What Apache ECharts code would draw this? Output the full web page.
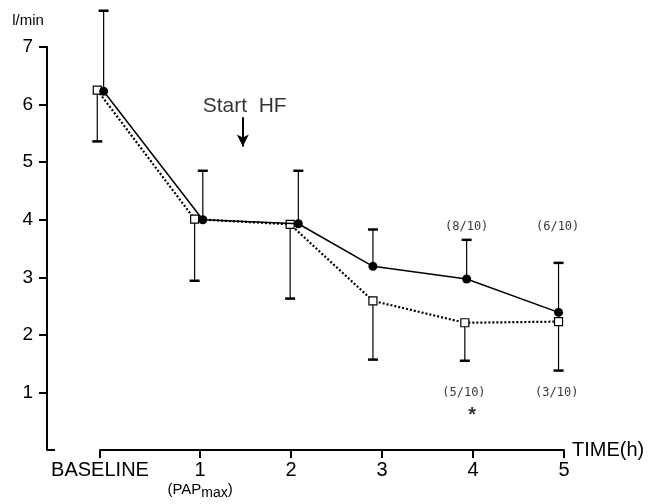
<!DOCTYPE html>
<html>
<head>
<meta charset="utf-8">
<script src="https://cdn.jsdelivr.net/npm/echarts@6/dist/echarts.min.js"></script>
<style>
  html, body { margin: 0; padding: 0; background: #fff; }
  #chart { width: 653px; height: 504px; }
</style>
</head>
<body>
<div id="chart"></div>
<script>
// x ticks (hours), baseline sits just left of hour 1
const tickTimes = [-0.1, 1, 2, 3, 4, 5];
const tickLabels = ['BASELINE', '1', '2', '3', '4', '5'];
const yTicks = [1, 2, 3, 4, 5, 6, 7];

// filled circles, solid line, SD upward
const circleTime = [-0.06, 1.03, 2.08, 2.90, 3.93, 4.94];
const circleFlow = [6.23, 4.00, 3.93, 3.19, 2.97, 2.39];
const circleUpper = [7.63, 4.85, 4.85, 3.83, 3.65, 3.25];

// open squares, dotted line, SD downward
const squareTime = [-0.13, 0.94, 1.99, 2.90, 3.91, 4.94];
const squareFlow = [6.25, 4.01, 3.92, 2.59, 2.21, 2.23];
const squareLower = [5.36, 2.94, 2.63, 1.57, 1.55, 1.38];

// text notes placed in data units
const noteText = ['(8/10)', '(6/10)', '(5/10)', '(3/10)'];
const noteTime = [3.93, 4.93, 3.90, 4.92];
const noteFlow = [3.88, 3.88, 0.99, 0.99];
const starTime = [3.99];
const starFlow = [0.60];

const chart = echarts.init(document.getElementById('chart'));
const FONT = '"Liberation Sans", Arial, sans-serif';

function errorBars(times, flows, ends) {
  return times.map((t, i) => [t, flows[i], ends[i]]);
}

function renderErr(params, api) {
  const p0 = api.coord([api.value(0), api.value(1)]);
  const p1 = api.coord([api.value(0), api.value(2)]);
  const half = 5;
  return {
    type: 'group',
    children: [
      { type: 'line', shape: { x1: p0[0], y1: p0[1], x2: p1[0], y2: p1[1] },
        style: { stroke: '#000', lineWidth: 1.2 } },
      { type: 'line', shape: { x1: p1[0] - half, y1: p1[1], x2: p1[0] + half, y2: p1[1] },
        style: { stroke: '#000', lineWidth: 2.5 } }
    ]
  };
}

const option = {
  animation: false,
  backgroundColor: '#fff',
  grid: { left: 100, right: 89, top: 47, bottom: 54 },
  xAxis: {
    type: 'value',
    min: -0.1,
    max: 5,
    name: 'TIME(h)',
    nameLocation: 'end',
    nameGap: 8,
    nameTextStyle: { color: '#000', fontFamily: FONT, fontSize: 20, verticalAlign: 'middle', padding: [0, 0, 6, 0] },
    axisLine: { show: true, onZero: false, lineStyle: { color: '#000', width: 2 } },
    axisTick: { show: true, customValues: tickTimes, length: 8, lineStyle: { color: '#000', width: 2 } },
    axisLabel: {
      customValues: tickTimes,
      margin: 10,
      color: '#000',
      fontFamily: FONT,
      fontSize: 20,
      formatter: v => {
        const i = tickTimes.indexOf(v);
        const s = i >= 0 ? tickLabels[i] : '';
        if (v === 1) return '{n|1}\n{p|(PAP}{s|max}{p|)}';
        return '{n|' + s + '}';
      },
      rich: {
        n: { fontFamily: FONT, fontSize: 20, color: '#000', lineHeight: 20 },
        p: { fontFamily: FONT, fontSize: 15, color: '#000', lineHeight: 20 },
        s: { fontFamily: FONT, fontSize: 14, color: '#000', lineHeight: 20, padding: [6, 0, 0, 0] }
      }
    },
    splitLine: { show: false }
  },
  yAxis: {
    type: 'value',
    min: 0,
    max: 7,
    offset: 53,
    name: 'l/min',
    nameLocation: 'end',
    nameGap: 19,
    nameTextStyle: { color: '#000', fontFamily: FONT, fontSize: 15, align: 'center', padding: [0, 38, 0, 0] },
    axisLine: { show: true, onZero: false, lineStyle: { color: '#000', width: 2 } },
    axisTick: { show: true, customValues: yTicks, length: 8, lineStyle: { color: '#000', width: 2 } },
    axisLabel: { customValues: yTicks, margin: 14, color: '#000', fontFamily: FONT, fontSize: 19 },
    splitLine: { show: false }
  },
  graphic: [
    { type: 'line', shape: { x1: 47, y1: 450, x2: 55, y2: 450 }, style: { stroke: '#000', lineWidth: 2 } }
  ],
  series: [
    {
      type: 'custom',
      renderItem: renderErr,
      data: errorBars(circleTime, circleFlow, circleUpper),
      clip: false,
      z: 1
    },
    {
      type: 'custom',
      renderItem: renderErr,
      data: errorBars(squareTime, squareFlow, squareLower),
      clip: false,
      z: 1
    },
    {
      type: 'line',
      data: squareTime.map((t, i) => [t, squareFlow[i]]),
      symbol: 'rect',
      symbolSize: 8,
      showAllSymbol: true,
      clip: false,
      lineStyle: { color: '#000', width: 2.2, type: [2, 2] },
      itemStyle: { color: '#fff', borderColor: '#000', borderWidth: 1.2 },
      z: 3
    },
    {
      type: 'line',
      data: circleTime.map((t, i) => [t, circleFlow[i]]),
      symbol: 'circle',
      symbolSize: 9,
      showAllSymbol: true,
      clip: false,
      lineStyle: { color: '#000', width: 1.5 },
      itemStyle: { color: '#000', borderColor: '#000', borderWidth: 0 },
      z: 4
    },
    {
      type: 'scatter',
      symbolSize: 1,
      itemStyle: { color: 'rgba(0,0,0,0)' },
      silent: true,
      data: noteText.map((s, i) => ({ name: s, value: [noteTime[i], noteFlow[i]] })),
      label: {
        show: true,
        position: 'inside',
        formatter: p => p.name,
        color: '#000',
        fontFamily: '"DejaVu Sans Mono", monospace',
        fontSize: 12
      }
    },
    {
      type: 'scatter',
      symbolSize: 1,
      itemStyle: { color: 'rgba(0,0,0,0)' },
      silent: true,
      data: starTime.map((t, i) => ({ name: '*', value: [t, starFlow[i]] })),
      label: {
        show: true,
        position: 'inside',
        formatter: '*',
        color: '#000',
        fontFamily: FONT,
        fontWeight: 'bold',
        fontSize: 20
      }
    },
    {
      type: 'scatter',
      symbolSize: 1,
      itemStyle: { color: 'rgba(0,0,0,0)' },
      silent: true,
      data: [{ name: 'Start  HF', value: [1.49, 5.98] }],
      label: {
        show: true,
        position: 'inside',
        formatter: p => p.name,
        color: '#000',
        fontFamily: FONT,
        fontSize: 21
      },
      markLine: {
        silent: true,
        symbol: ['none', 'arrow'],
        symbolSize: [9, 12],
        label: { show: false },
        lineStyle: { color: '#000', width: 2, type: 'solid' },
        data: [[{ coord: [1.47, 5.78] }, { coord: [1.47, 5.27] }]]
      }
    }
  ]
};

chart.setOption(option);
</script>
</body>
</html>
